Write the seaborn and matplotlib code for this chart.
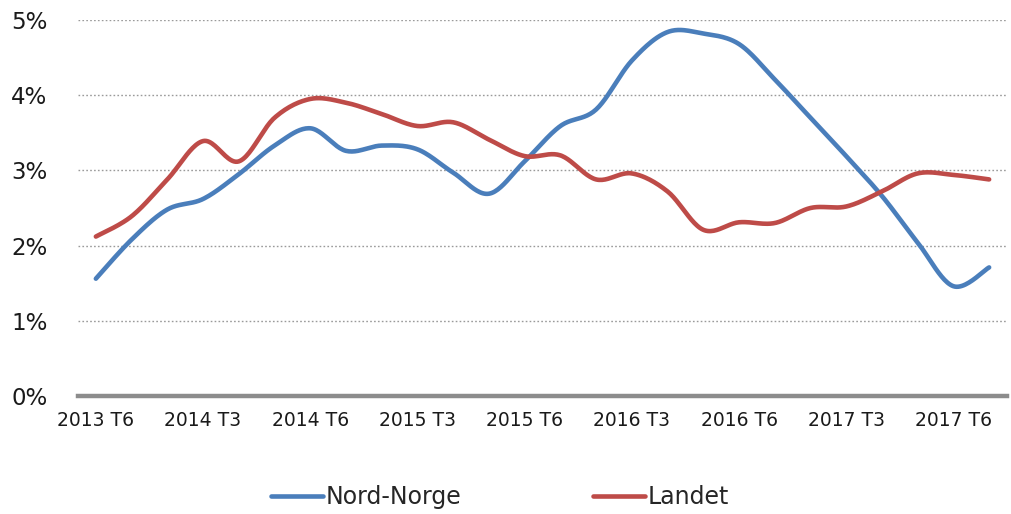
import numpy as np
import pandas as pd
import matplotlib
matplotlib.use("Agg")
import matplotlib.pyplot as plt
import seaborn as sns

# Bimonthly periods (T1..T6) from 2013 T6 to 2018 T1
periods = [
    "2013 T6",
    "2014 T1", "2014 T2", "2014 T3", "2014 T4", "2014 T5", "2014 T6",
    "2015 T1", "2015 T2", "2015 T3", "2015 T4", "2015 T5", "2015 T6",
    "2016 T1", "2016 T2", "2016 T3", "2016 T4", "2016 T5", "2016 T6",
    "2017 T1", "2017 T2", "2017 T3", "2017 T4", "2017 T5", "2017 T6",
    "2018 T1",
]

# Growth, percent
nord_norge = [1.56, 2.08, 2.48, 2.62, 2.95, 3.33, 3.56, 3.26, 3.33, 3.28,
              2.97, 2.69, 3.12, 3.59, 3.81, 4.46, 4.84, 4.82, 4.68, 4.21,
              3.70, 3.19, 2.66, 2.04, 1.46, 1.71]
landet = [2.12, 2.39, 2.88, 3.39, 3.12, 3.70, 3.95, 3.90, 3.75, 3.59,
          3.64, 3.41, 3.19, 3.20, 2.88, 2.96, 2.72, 2.21, 2.31, 2.30,
          2.50, 2.52, 2.72, 2.96, 2.94, 2.88]

series_names = ["Nord-Norge", "Landet"]
series_colors = ["#4A7EBB", "#BE4B48"]

y_ticks = [0, 1, 2, 3, 4, 5]
y_tick_labels = ["0%", "1%", "2%", "3%", "4%", "5%"]
x_label_step = 3


def smooth_curve(values, steps=24):
    """Catmull-Rom smoothing through every data point (Excel-style smoothed line)."""
    y = np.asarray(values, dtype=float)
    x = np.arange(len(y), dtype=float)
    px = np.concatenate([[x[0]], x, [x[-1]]])
    py = np.concatenate([[y[0]], y, [y[-1]]])
    xs, ys = [], []
    for i in range(1, len(px) - 2):
        p0, p1, p2, p3 = (np.array([px[j], py[j]]) for j in (i - 1, i, i + 1, i + 2))
        c1 = p1 + (p2 - p0) / 6.0
        c2 = p2 - (p3 - p1) / 6.0
        t = np.linspace(0, 1, steps, endpoint=(i == len(px) - 3))
        pts = ((1 - t) ** 3)[:, None] * p1 + (3 * (1 - t) ** 2 * t)[:, None] * c1 \
            + (3 * (1 - t) * t ** 2)[:, None] * c2 + (t ** 3)[:, None] * p2
        xs.append(pts[:, 0])
        ys.append(pts[:, 1])
    return np.concatenate(xs), np.concatenate(ys)


frames = []
for name, vals in zip(series_names, [nord_norge, landet]):
    sx, sy = smooth_curve(vals)
    frames.append(pd.DataFrame({"x": sx, "y": sy, "series": name}))
df = pd.concat(frames, ignore_index=True)

sns.set_style("white")
plt.rcParams["font.family"] = ["DejaVu Sans"]

fig = plt.figure(figsize=(10.11, 5.14), dpi=100)
ax = fig.add_axes([78 / 1011, (514 - 396) / 514, (1007 - 78) / 1011, (396 - 20) / 514])

sns.lineplot(data=df, x="x", y="y", hue="series", palette=dict(zip(series_names, series_colors)),
             hue_order=series_names, estimator=None, sort=False, linewidth=3.3,
             ax=ax, legend=False, zorder=3)

ax.set_xlim(-0.5, len(periods) - 0.5)
ax.set_ylim(0, 5)
ax.set_xlabel("")
ax.set_ylabel("")

ax.set_xticks(range(0, len(periods), x_label_step))
ax.set_xticklabels(periods[::x_label_step], fontsize=13.5, color="#1a1a1a")
ax.set_yticks(y_ticks)
ax.set_yticklabels(y_tick_labels, fontsize=16.5, color="#1a1a1a")
ax.tick_params(axis="x", length=0, pad=11)
ax.tick_params(axis="y", length=0, pad=22)

ax.yaxis.grid(True, linestyle=(0, (1.2, 1.6)), color="#9a9a9a", linewidth=1.0)
ax.xaxis.grid(False)
for side in ("top", "right", "left"):
    ax.spines[side].set_visible(False)
ax.spines["bottom"].set_color("#8c8c8c")
ax.spines["bottom"].set_linewidth(3.2)
ax.spines["bottom"].set_zorder(2)

handles = [plt.Line2D([0], [0], color=c, linewidth=3.3) for c in series_colors]
fig.legend(handles, series_names, loc="center", bbox_to_anchor=(500 / 1011, 1 - 497 / 514),
           ncol=2, frameon=False, fontsize=17, handlelength=2.2, handletextpad=0.1,
           columnspacing=5.6)

fig.savefig("out.png", dpi=100)
